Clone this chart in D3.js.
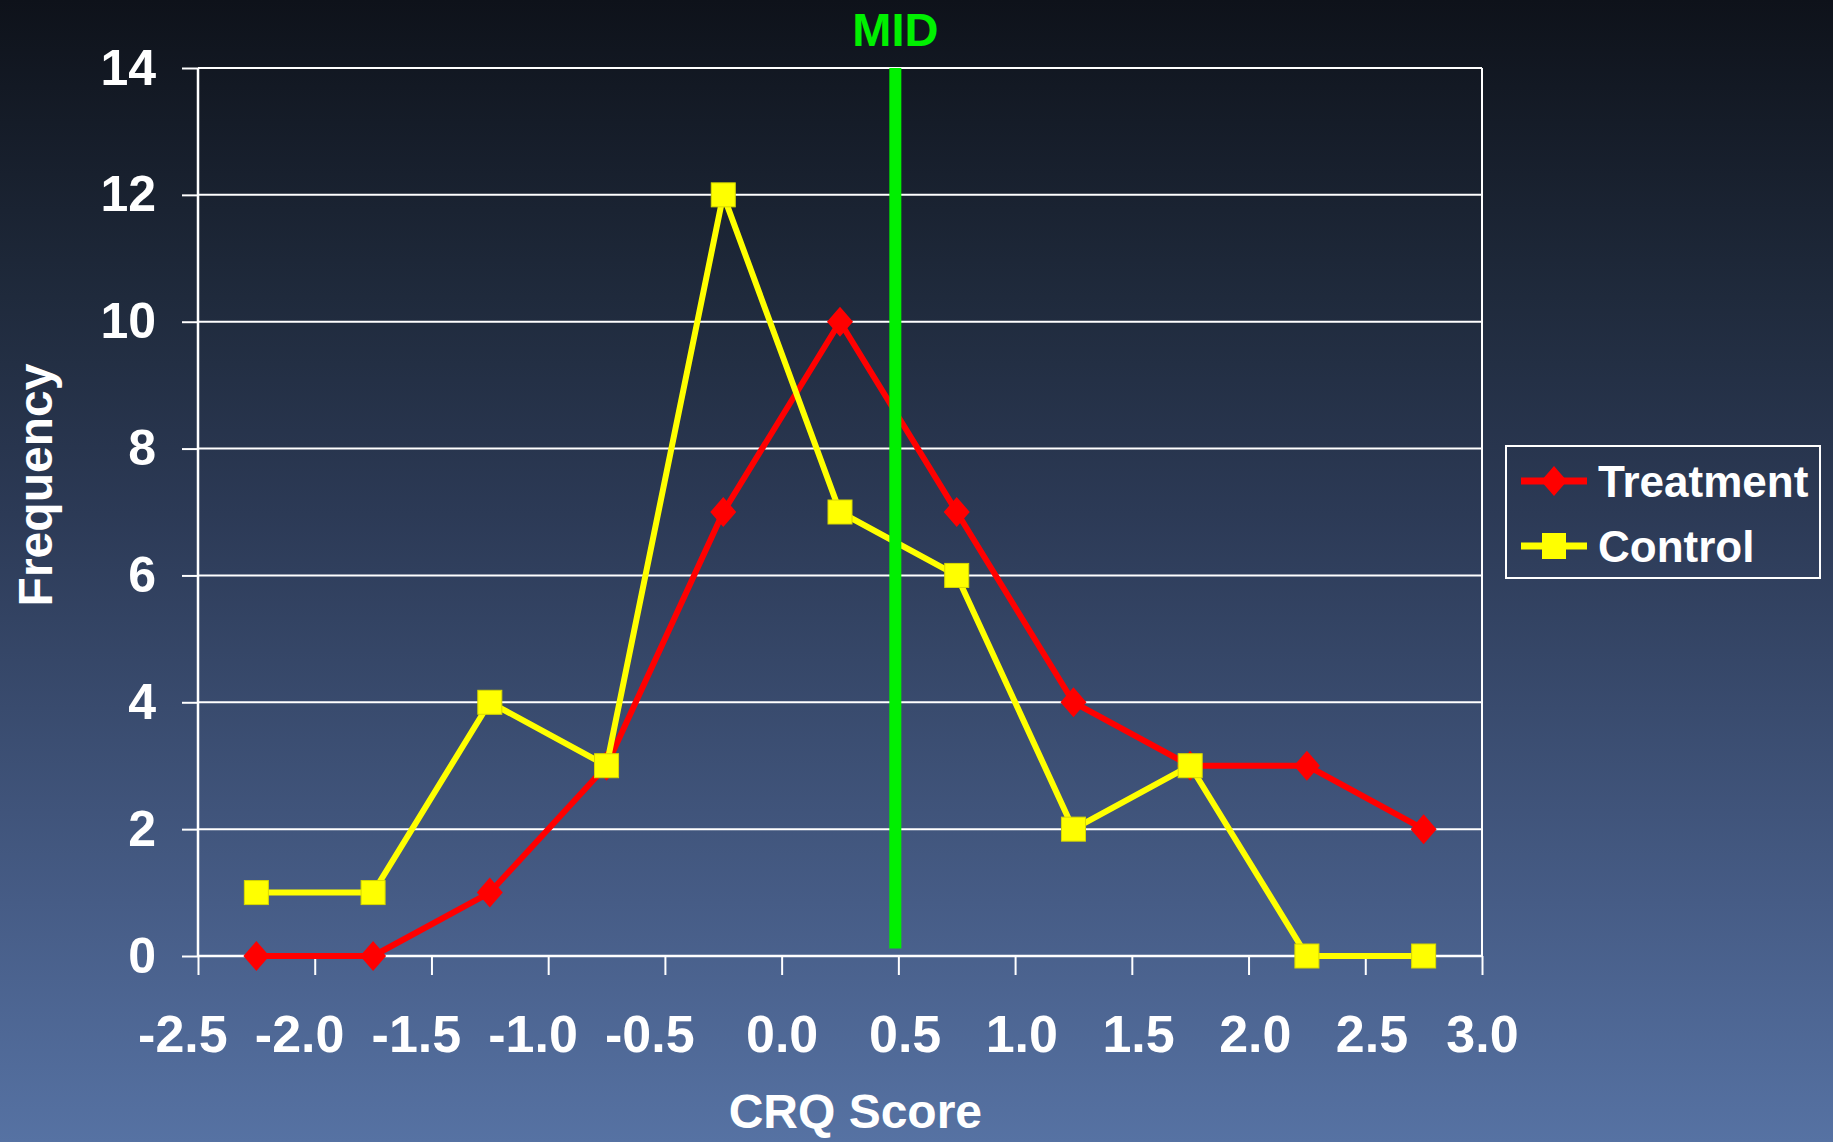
<!DOCTYPE html>
<html>
<head>
<meta charset="utf-8">
<script src="https://cdn.jsdelivr.net/npm/d3@7"></script>
<style>
    html, body { margin: 0; padding: 0; overflow: hidden; background: #0e121a; }
    svg { display: block; }
    text { font-family: "Liberation Sans", Arial, sans-serif; font-weight: bold; fill: #ffffff; }
</style>
</head>
<body>
<div id="chart"></div>
<script>
// bin centres of the CRQ score histogram
const scoreBins = [-2.25, -1.75, -1.25, -0.75, -0.25, 0.25, 0.75, 1.25, 1.75, 2.25, 2.75];
const treatmentFreq = [0, 0, 1, 3, 7, 10, 7, 4, 3, 3, 2];
const controlFreq = [1, 1, 4, 3, 12, 7, 6, 2, 3, 0, 0];
const xTickValues = [-2.5, -2.0, -1.5, -1.0, -0.5, 0.0, 0.5, 1.0, 1.5, 2.0, 2.5, 3.0];
const yTickValues = [0, 2, 4, 6, 8, 10, 12, 14];
const midValue = 0.487;

const series = [
    { name: 'Treatment', values: treatmentFreq, color: '#ff0000', marker: 'diamond' },
    { name: 'Control', values: controlFreq, color: '#ffff00', marker: 'square' }
];

const width = 1833;
const height = 1142;
const margin = { top: 68, right: 351, bottom: 186, left: 198 }; // plot frame 198..1482 x 68..956

const svg = d3.select('#chart').append('svg')
    .attr('width', width)
    .attr('height', height);

// slide background
const grad = svg.append('defs').append('linearGradient')
    .attr('id', 'bg')
    .attr('x1', 0).attr('y1', 0).attr('x2', 0).attr('y2', 1);
[[0, '#0e121a'], [0.26, '#1f2a3c'], [0.45, '#2c3a56'], [0.79, '#465c86'], [1, '#5672a3']]
    .forEach(([o, c]) => grad.append('stop').attr('offset', o).attr('stop-color', c));
svg.append('rect').attr('width', width).attr('height', height).attr('fill', 'url(#bg)');

const innerW = width - margin.left - margin.right;
const innerH = height - margin.top - margin.bottom;

const x = d3.scaleLinear().domain([-2.5, 3.0]).range([0, innerW]);
const y = d3.scaleLinear().domain([0, 14]).range([innerH, 0]);

const g = svg.append('g').attr('transform', `translate(${margin.left},${margin.top})`);

// gridlines
g.append('g')
    .selectAll('line')
    .data(yTickValues)
    .enter()
    .append('line')
    .attr('x1', 0).attr('x2', innerW)
    .attr('y1', d => y(d)).attr('y2', d => y(d))
    .attr('stroke', '#ffffff')
    .attr('stroke-width', 2);

// right edge of the plot frame
g.append('line')
    .attr('x1', innerW).attr('x2', innerW)
    .attr('y1', 0).attr('y2', innerH)
    .attr('stroke', '#ffffff').attr('stroke-width', 2);

// Y axis
const yAxis = g.append('g')
    .call(d3.axisLeft(y).tickValues(yTickValues).tickSize(16).tickPadding(26).tickFormat(d3.format('d')));
yAxis.select('.domain').attr('stroke', '#ffffff').attr('stroke-width', 2.5).attr('d', `M0,0V${innerH}`);
yAxis.selectAll('.tick line').attr('stroke', '#ffffff').attr('stroke-width', 2);
yAxis.selectAll('.tick text')
    .style('font-size', '50px')
    .attr('fill', '#ffffff');

// X axis
const xAxis = g.append('g')
    .attr('transform', `translate(0,${innerH})`)
    .call(d3.axisBottom(x).tickValues(xTickValues).tickSize(19).tickPadding(40).tickFormat(d3.format('.1f')));
xAxis.select('.domain').attr('stroke', '#ffffff').attr('stroke-width', 2.5).attr('d', `M0,0H${innerW}`);
xAxis.selectAll('.tick line').attr('stroke', '#ffffff').attr('stroke-width', 2);
xAxis.selectAll('.tick text')
    .style('font-size', '52px')
    .attr('fill', '#ffffff')
    .attr('dx', d => d < 0 ? '-0.3em' : (d > 0 && d < 3 ? '0.12em' : 0))
    .text(d => d3.format('.1f')(d).replace('\u2212', '-'));

// axis titles
svg.append('text')
    .attr('transform', `translate(52,485) rotate(-90)`)
    .attr('text-anchor', 'middle')
    .style('font-size', '48px')
    .text('Frequency');

svg.append('text')
    .attr('x', margin.left + x(0.5) - 43)
    .attr('y', 1128)
    .attr('text-anchor', 'middle')
    .style('font-size', '48px')
    .text('CRQ Score');

// series lines + markers
const line = d3.line()
    .x((d, i) => x(scoreBins[i]))
    .y(d => y(d));

// Excel-style diamond, a bit taller than wide
const diamondPath = 'M0,-15L13,0L0,15L-13,0Z';

series.forEach(s => {
    g.append('path')
        .datum(s.values)
        .attr('fill', 'none')
        .attr('stroke', s.color)
        .attr('stroke-width', 6)
        .attr('stroke-linejoin', 'round')
        .attr('d', line);

    const pts = g.append('g')
        .selectAll('.pt')
        .data(s.values)
        .enter();

    if (s.marker === 'diamond') {
        pts.append('path')
            .attr('d', diamondPath)
            .attr('transform', (d, i) => `translate(${x(scoreBins[i])},${y(d)})`)
            .attr('fill', s.color);
    } else {
        pts.append('rect')
            .attr('x', (d, i) => x(scoreBins[i]) - 12)
            .attr('y', d => y(d) - 12)
            .attr('width', 24)
            .attr('height', 24)
            .attr('fill', s.color)
            .attr('stroke', '#d8d800')
            .attr('stroke-width', 1);
    }
});

// MID marker line
g.append('line')
    .attr('x1', x(midValue)).attr('x2', x(midValue))
    .attr('y1', y(14)).attr('y2', y(0.12))
    .attr('stroke', '#00f000')
    .attr('stroke-width', 12);

svg.append('text')
    .attr('x', margin.left + x(midValue))
    .attr('y', 46)
    .attr('text-anchor', 'middle')
    .style('font-size', '47px')
    .style('fill', '#00f000')
    .text('MID');

// legend
const legend = svg.append('g').attr('transform', 'translate(1506,446)');
legend.append('rect')
    .attr('width', 314).attr('height', 132)
    .attr('fill', 'none')
    .attr('stroke', '#ffffff')
    .attr('stroke-width', 2);

series.forEach((s, i) => {
    const row = legend.append('g').attr('transform', `translate(0,${35 + i * 65})`);
    row.append('line')
        .attr('x1', 15).attr('x2', 81)
        .attr('stroke', s.color).attr('stroke-width', 7);
    if (s.marker === 'diamond') {
        row.append('path')
            .attr('d', diamondPath)
            .attr('transform', 'translate(48,0)')
            .attr('fill', s.color);
    } else {
        row.append('rect')
            .attr('x', 36).attr('y', -13)
            .attr('width', 24).attr('height', 26)
            .attr('fill', s.color);
    }
    row.append('text')
        .attr('x', 92)
        .attr('dy', '0.36em')
        .style('font-size', '44px')
        .text(s.name);
});
</script>
</body>
</html>
